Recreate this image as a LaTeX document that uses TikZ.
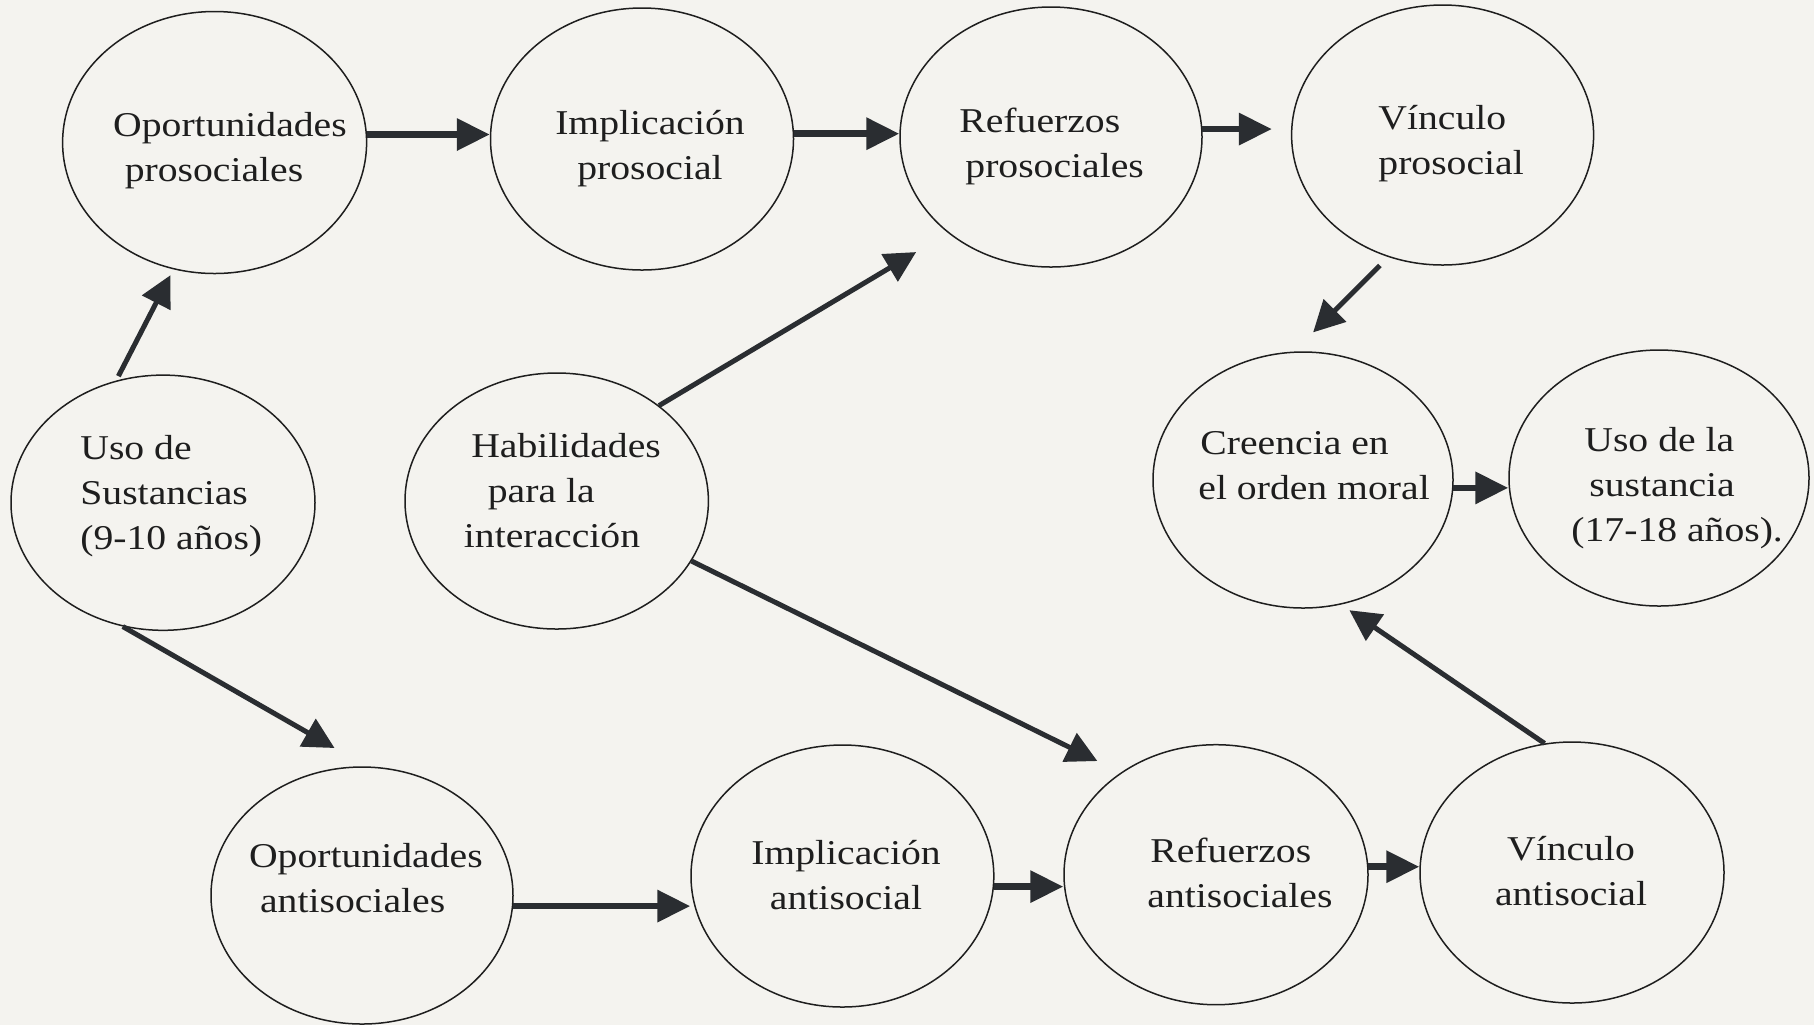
\documentclass[tikz,border=0pt]{standalone}
\usepackage{fontspec}
\setmainfont{Liberation Serif}[FakeStretch=1.14]
\usetikzlibrary{arrows.meta,shapes.geometric}
\definecolor{bg}{HTML}{F4F3EF}
\definecolor{ink}{HTML}{1E1E1E}
\definecolor{arr}{HTML}{2A2D31}
\begin{document}
\begin{tikzpicture}[x=0.5pt,y=-0.5pt,
  ell/.style={draw=ink, line width=0.75pt, ellipse, inner sep=0pt},
  txt/.style={font=\fontsize{17.4pt}{22.5pt}\selectfont, text=ink, inner sep=0pt},
  harr/.style={draw=arr, line width=3.3pt, -{Triangle[length=16.5pt,width=15.5pt]}},
  darr/.style={draw=arr, line width=2.5pt, -{Triangle[length=15.5pt,width=15.5pt]}}]
\fill[bg] (0,0) rectangle (1814,1025);
\useasboundingbox (0,0) rectangle (1814,1025);
% ellipses
\node[ell, minimum width=152pt, minimum height=131pt] (n1) at (214.6,142.5) {};
\node[ell, minimum width=151.5pt, minimum height=131pt] (n2) at (642,139) {};
\node[ell, minimum width=151pt, minimum height=130pt] (n3) at (1051,137) {};
\node[ell, minimum width=151pt, minimum height=130pt] (n4) at (1442.6,135) {};
\node[ell, minimum width=152pt, minimum height=127.6pt] (n5) at (163,502.7) {};
\node[ell, minimum width=151.7pt, minimum height=128pt] (n6) at (556.7,501) {};
\node[ell, minimum width=150pt, minimum height=128pt] (n7) at (1303,480) {};
\node[ell, minimum width=150pt, minimum height=128pt] (n8) at (1659,478) {};
\node[ell, minimum width=151pt, minimum height=128.5pt] (n9) at (362,895.5) {};
\node[ell, minimum width=151.4pt, minimum height=131pt] (n10) at (842.4,876) {};
\node[ell, minimum width=152pt, minimum height=130pt] (n11) at (1216,874.7) {};
\node[ell, minimum width=152pt, minimum height=130.5pt] (n12) at (1572,872.5) {};
% texts
\node[txt, align=left, anchor=west] (t1) at (112.8,149.5) {\strut Oportunidades\\\strut\hspace{5.8pt}prosociales};
\node[txt, align=center] (t2) at (650,147.5) {\strut Implicación\\\strut prosocial};
\node[txt, align=left, anchor=west] (t3) at (959,145.5) {\strut Refuerzos\\\strut\hspace{3pt}prosociales};
\node[txt, align=left, anchor=west] (t4) at (1378,142.5) {\strut Vínculo\\\strut prosocial};
\node[txt, align=left, anchor=west] (t5) at (80,495) {\strut Uso de\\\strut Sustancias\\\strut (9-10 años)};
\node[txt, align=left, anchor=west] (t6) at (463.5,493) {\strut\hspace{3.7pt}Habilidades\\\strut\hspace{12pt}para la\\\strut interacción};
\node[txt, align=left, anchor=west] (t7) at (1198,467.5) {\strut\hspace{1pt}Creencia en\\\strut el orden moral};
\node[txt, align=left, anchor=west] (t8) at (1571,487) {\strut\hspace{6.5pt}Uso de la\\\strut\hspace{9pt}sustancia\\\strut (17-18 años).};
\node[txt, align=left, anchor=west] (t9) at (248.7,880.5) {\strut Oportunidades\\\strut\hspace{5.5pt}antisociales};
\node[txt, align=center] (t10) at (846,877.5) {\strut Implicación\\\strut antisocial};
\node[txt, align=left, anchor=west] (t11) at (1147,875.5) {\strut\hspace{1.5pt}Refuerzos\\\strut antisociales};
\node[txt, align=center] (t12) at (1571,873.5) {\strut Vínculo\\\strut antisocial};
% arrows
\draw[harr] (n1.3.7) -- (n1.3.7 -| n2.west);
\draw[harr] (n2.2.4) -- (n2.2.4 -| n3.west);
\draw[harr, shorten >=9.5pt] (n3.3.5) -- (n3.3.5 -| n4.west);
\draw[darr, shorten <=5.9pt, shorten >=13.5pt] (n4.246.4) -- (n7.94.6);
\draw[darr, shorten <=2.5pt, shorten >=3.3pt] (n5.111) -- (n1.252);
\draw[darr, shorten >=18.4pt] (n5.252.3) -- (n9.88.8);
\draw[darr, shorten >=18.55pt] (n6.43.4) -- (n3.223.56);
\draw[darr, shorten >=13pt] (n6.336.2) -- (n11.133.4);
\draw[harr] (n9.356.9) -- (n9.356.9 -| n10.west);
\draw[harr] (n10.356.7) -- (n10.356.7 -| n11.west);
\draw[harr] (n11.3.3) -- (n11.3.3 -| n12.west);
\draw[darr, shorten >=5pt] (n12.102.6) -- (n7.287.4);
\draw[harr] (n7.357.4) -- (n7.357.4 -| n8.west);
\end{tikzpicture}
\end{document}
